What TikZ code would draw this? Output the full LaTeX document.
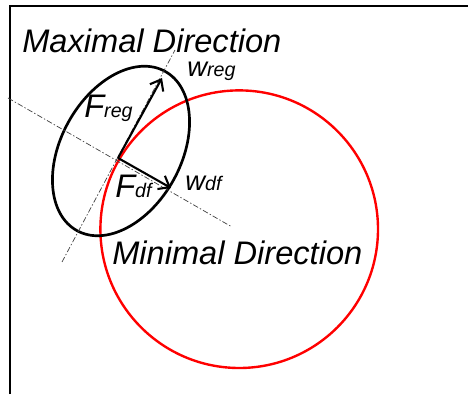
\documentclass[tikz,border=0pt]{standalone}
\usepackage{fontspec}
\setmainfont{Liberation Sans}
\usepackage{xcolor}
\usepackage{tikz}
\usetikzlibrary{arrows.meta,calc}
\tikzset{
  frameline/.style={line width=1.5pt, draw=black},
  axisline/.style={
    line width=0.5pt,
    draw=black!75,
    dash pattern=on 4pt off 1.5pt on 1pt off 1.5pt
  },
  mincircle/.style={draw=red, line width=1.7pt},
  maxellipse/.style={draw=black, line width=1.9pt},
  vec/.style={line width=1.5pt, draw=black, -{Straight Barb[length=2.4mm, width=3.8mm]}},
  dirlabel/.style={font=\fontsize{23.2}{26}\selectfont\itshape, anchor=base west, inner sep=0pt},
  flabel/.style={font=\fontsize{23.2}{26}\selectfont\itshape, anchor=base west, inner sep=0pt},
  wlabel/.style={font=\fontsize{19.5}{22}\selectfont\itshape, anchor=base west, inner sep=0pt}
}
\newcommand{\subtxt}[1]{{\fontsize{14}{16}\selectfont #1}}

\begin{document}
\begin{tikzpicture}[x=1cm,y=1cm]
\useasboundingbox (0,0) rectangle (11.7,9.85);

% frame
\draw[frameline] (0.25,0) -- (0.25,9.7) -- (11.7,9.7);

% minimal direction circle
\coordinate (cc) at (5.98,4.12);
\draw[mincircle] (cc) circle [radius=3.47];

% maximal direction ellipse
\coordinate (ec) at (3.025,6.075);
\draw[maxellipse, rotate around={61:(ec)}] (ec) ellipse [x radius=2.275, y radius=1.5];

% axes
\coordinate (majA) at (1.55,3.3);
\coordinate (majB) at (4.375,8.6);
\coordinate (minA) at (0.2,7.4);
\coordinate (minB) at (5.8,4.175);
\draw[axisline] (majA) -- (majB);
\draw[axisline] (minA) -- (minB);

% vectors
\coordinate (o) at (2.95,5.9);
\coordinate (wregtip) at (4.05,7.9);
\coordinate (wdftip) at (4.275,5.15);
\draw[vec] (o) -- (wregtip);
\draw[vec] (o) -- (wdftip);

% labels
\node[dirlabel] (maxlabel) at (0.55,8.525) {Maximal Direction};
\node[dirlabel] (minlabel) at (2.8,3.225) {Minimal Direction};
\node[flabel] (freg) at (2.1,6.9) {F\subtxt{reg}};
\node[flabel] (fdf) at (2.875,4.9) {F\subtxt{df}};
\node[wlabel] (wreg) at (4.675,7.925) {w\subtxt{reg}};
\node[wlabel] (wdf) at (4.625,5.075) {w\subtxt{df}};
\end{tikzpicture}
\end{document}
